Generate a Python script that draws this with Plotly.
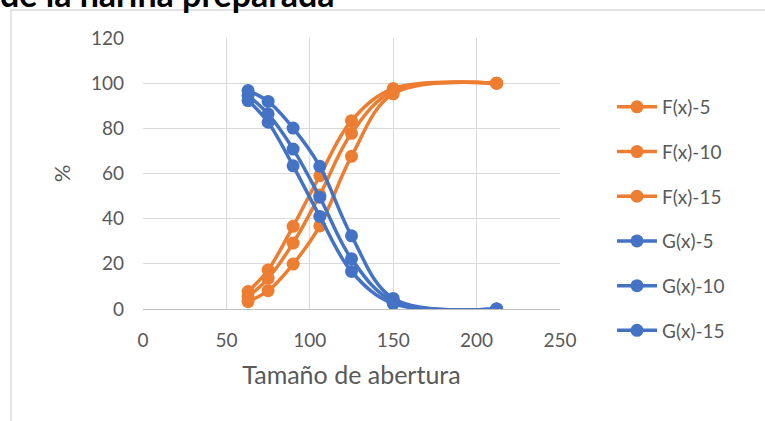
import plotly.graph_objects as go

# Sieve openings (µm) and cumulative percentages per sample
abertura = [63, 75, 90, 106, 125, 150, 212]

f_5 = [7.7, 17.3, 36.6, 59.0, 83.4, 97.6, 100]
f_10 = [5.5, 13.6, 29.2, 50.5, 77.8, 96.5, 100]
f_15 = [3.3, 8.1, 19.9, 36.8, 67.6, 95.3, 100]
g_5 = [92.3, 82.7, 63.4, 41.0, 16.6, 2.4, 0]
g_10 = [94.5, 86.4, 70.8, 49.5, 22.2, 3.5, 0]
g_15 = [96.7, 91.9, 80.1, 63.2, 32.4, 4.7, 0]

series_names = ["F(x)-5", "F(x)-10", "F(x)-15", "G(x)-5", "G(x)-10", "G(x)-15"]
series_values = [f_5, f_10, f_15, g_5, g_10, g_15]

x_ticks = [0, 50, 100, 150, 200, 250]
y_ticks = [0, 20, 40, 60, 80, 100, 120]

ORANGE = "#ED7D31"
BLUE = "#4472C4"
GRID = "#D9D9D9"
TEXT = "#595959"
FONT = "Lato, 'Open Sans', sans-serif"

fig = go.Figure()
for name, vals in zip(series_names, series_values):
    color = ORANGE if name.startswith("F") else BLUE
    fig.add_trace(go.Scatter(
        x=abertura, y=vals, name=name, mode="lines+markers",
        line=dict(color=color, width=3.5, shape="spline", smoothing=1.0),
        marker=dict(color=color, size=13),
        legendgroup=name,
    ))

# plot area in pixels: x 143..560, y 38..309
W, H = 765, 421
ml, mr, mt, mb = 143, W - 560, 38, H - 309
pw, ph = W - ml - mr, H - mt - mb

def px_x(p):
    return (p - ml) / pw

def px_y(p):
    return (H - mb - p) / ph

fig.update_layout(
    width=W, height=H,
    margin=dict(l=ml, r=mr, t=mt, b=mb, pad=0),
    paper_bgcolor="white", plot_bgcolor="white",
    font=dict(family=FONT, color=TEXT, size=19),
    showlegend=True,
    legend=dict(
        x=px_x(612), xanchor="left", y=px_y(88), yanchor="top",
        font=dict(family=FONT, size=19, color=TEXT),
        tracegroupgap=17, traceorder="grouped",
        bgcolor="rgba(0,0,0,0)", itemwidth=40, maxheight=400,
    ),
    xaxis=dict(
        range=[0, 250], tickvals=x_ticks, showgrid=True, gridcolor=GRID,
        gridwidth=1.3, zeroline=False, showline=True, linecolor="#BFBFBF",
        linewidth=1.3, ticks="", ticklabelstandoff=14,
        title=dict(text="Tamaño de abertura", font=dict(size=25, color=TEXT), standoff=16),
    ),
    yaxis=dict(
        range=[0, 120], tickvals=y_ticks, showgrid=True, gridcolor=GRID,
        gridwidth=1.3, zeroline=False, showline=False, ticks="",
        ticklabelstandoff=18,
        title=dict(text="%", font=dict(size=22, color=TEXT), standoff=14),
    ),
)

# chart frame
fig.add_shape(type="rect", xref="paper", yref="paper",
              x0=px_x(11), y0=px_y(440), x1=px_x(800), y1=px_y(10),
              line=dict(color=GRID, width=1.3), fillcolor="rgba(0,0,0,0)", layer="below")

# chart title, partly above the page edge
fig.add_annotation(text="<b>de la harina preparada</b>", xref="paper", yref="paper",
                   x=px_x(-2), y=px_y(16), xanchor="left", yanchor="bottom",
                   showarrow=False, font=dict(family=FONT, size=34, color="black"))

fig.write_html("out.html")
